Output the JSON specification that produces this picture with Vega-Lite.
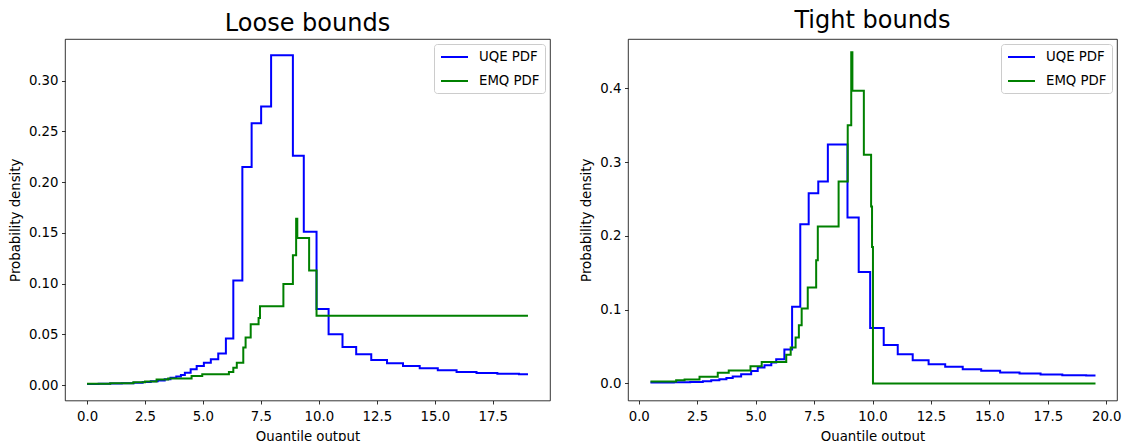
{
  "$schema": "https://vega.github.io/schema/vega-lite/v6.json",
  "background": "white",
  "padding": {"left": 7, "top": 8, "right": 0, "bottom": 0},
  "config": {
    "font": "DejaVu Sans",
    "view": {"stroke": "black", "strokeWidth": 0.8},
    "axis": {"grid": false, "domain": false, "labelFont": "DejaVu Sans", "labelFontSize": 13.3, "labelColor": "black", "titleFont": "DejaVu Sans", "titleFontSize": 13.3, "titleFontWeight": "normal", "titleColor": "black", "tickColor": "black", "tickSize": 3.5, "tickWidth": 0.8, "labelPadding": 3.5},
    "axisX": {"titlePadding": 7.5, "labelPadding": 5},
    "axisY": {"titlePadding": 6},
    "title": {"font": "DejaVu Sans", "fontSize": 24, "fontWeight": "normal", "color": "black", "anchor": "middle"},
    "legend": {"symbolType": "M-0.857,0H3", "symbolSize": 196, "symbolStrokeWidth": 2, "labelFontSize": 13.3, "labelFont": "DejaVu Sans", "labelColor": "black", "labelOffset": 24, "padding": 5, "rowPadding": 9, "strokeColor": "#cccccc", "fillColor": "rgba(255,255,255,0.8)", "cornerRadius": 3, "symbolOpacity": 1}
  },
  "data": {"values": [
    {"panel": "Loose", "series": "UQE PDF", "x": 0, "y": 0.0010},
    {"panel": "Loose", "series": "UQE PDF", "x": 0.5, "y": 0.0012},
    {"panel": "Loose", "series": "UQE PDF", "x": 1.0, "y": 0.0015},
    {"panel": "Loose", "series": "UQE PDF", "x": 1.5, "y": 0.0019},
    {"panel": "Loose", "series": "UQE PDF", "x": 2.0, "y": 0.0024},
    {"panel": "Loose", "series": "UQE PDF", "x": 2.4, "y": 0.0030},
    {"panel": "Loose", "series": "UQE PDF", "x": 2.75, "y": 0.0037},
    {"panel": "Loose", "series": "UQE PDF", "x": 3.05, "y": 0.0046},
    {"panel": "Loose", "series": "UQE PDF", "x": 3.35, "y": 0.0058},
    {"panel": "Loose", "series": "UQE PDF", "x": 3.6, "y": 0.0072},
    {"panel": "Loose", "series": "UQE PDF", "x": 3.85, "y": 0.0085},
    {"panel": "Loose", "series": "UQE PDF", "x": 4.05, "y": 0.0100},
    {"panel": "Loose", "series": "UQE PDF", "x": 4.22, "y": 0.0122},
    {"panel": "Loose", "series": "UQE PDF", "x": 4.47, "y": 0.0155},
    {"panel": "Loose", "series": "UQE PDF", "x": 4.73, "y": 0.0188},
    {"panel": "Loose", "series": "UQE PDF", "x": 5.04, "y": 0.0220},
    {"panel": "Loose", "series": "UQE PDF", "x": 5.34, "y": 0.0254},
    {"panel": "Loose", "series": "UQE PDF", "x": 5.66, "y": 0.0310},
    {"panel": "Loose", "series": "UQE PDF", "x": 5.99, "y": 0.0460},
    {"panel": "Loose", "series": "UQE PDF", "x": 6.31, "y": 0.1030},
    {"panel": "Loose", "series": "UQE PDF", "x": 6.70, "y": 0.2150},
    {"panel": "Loose", "series": "UQE PDF", "x": 7.10, "y": 0.2580},
    {"panel": "Loose", "series": "UQE PDF", "x": 7.51, "y": 0.2746},
    {"panel": "Loose", "series": "UQE PDF", "x": 7.94, "y": 0.3250},
    {"panel": "Loose", "series": "UQE PDF", "x": 8.88, "y": 0.2260},
    {"panel": "Loose", "series": "UQE PDF", "x": 9.35, "y": 0.1510},
    {"panel": "Loose", "series": "UQE PDF", "x": 9.90, "y": 0.0750},
    {"panel": "Loose", "series": "UQE PDF", "x": 10.42, "y": 0.0500},
    {"panel": "Loose", "series": "UQE PDF", "x": 11.02, "y": 0.0376},
    {"panel": "Loose", "series": "UQE PDF", "x": 11.61, "y": 0.0304},
    {"panel": "Loose", "series": "UQE PDF", "x": 12.26, "y": 0.0248},
    {"panel": "Loose", "series": "UQE PDF", "x": 12.94, "y": 0.0215},
    {"panel": "Loose", "series": "UQE PDF", "x": 13.63, "y": 0.0188},
    {"panel": "Loose", "series": "UQE PDF", "x": 14.35, "y": 0.0165},
    {"panel": "Loose", "series": "UQE PDF", "x": 15.13, "y": 0.0145},
    {"panel": "Loose", "series": "UQE PDF", "x": 15.94, "y": 0.0129},
    {"panel": "Loose", "series": "UQE PDF", "x": 16.80, "y": 0.0119},
    {"panel": "Loose", "series": "UQE PDF", "x": 17.70, "y": 0.0112},
    {"panel": "Loose", "series": "UQE PDF", "x": 18.63, "y": 0.0106},
    {"panel": "Loose", "series": "UQE PDF", "x": 19.02, "y": 0.0106},
    {"panel": "Loose", "series": "EMQ PDF", "x": 0, "y": 0.0012},
    {"panel": "Loose", "series": "EMQ PDF", "x": 1.0, "y": 0.0018},
    {"panel": "Loose", "series": "EMQ PDF", "x": 2.0, "y": 0.0028},
    {"panel": "Loose", "series": "EMQ PDF", "x": 2.5, "y": 0.0036},
    {"panel": "Loose", "series": "EMQ PDF", "x": 3.0, "y": 0.0055},
    {"panel": "Loose", "series": "EMQ PDF", "x": 3.5, "y": 0.0065},
    {"panel": "Loose", "series": "EMQ PDF", "x": 4.51, "y": 0.0090},
    {"panel": "Loose", "series": "EMQ PDF", "x": 4.97, "y": 0.0106},
    {"panel": "Loose", "series": "EMQ PDF", "x": 6.12, "y": 0.0130},
    {"panel": "Loose", "series": "EMQ PDF", "x": 6.31, "y": 0.0170},
    {"panel": "Loose", "series": "EMQ PDF", "x": 6.46, "y": 0.0220},
    {"panel": "Loose", "series": "EMQ PDF", "x": 6.74, "y": 0.0370},
    {"panel": "Loose", "series": "EMQ PDF", "x": 6.84, "y": 0.0470},
    {"panel": "Loose", "series": "EMQ PDF", "x": 7.06, "y": 0.0600},
    {"panel": "Loose", "series": "EMQ PDF", "x": 7.40, "y": 0.0660},
    {"panel": "Loose", "series": "EMQ PDF", "x": 7.46, "y": 0.0776},
    {"panel": "Loose", "series": "EMQ PDF", "x": 8.47, "y": 0.0997},
    {"panel": "Loose", "series": "EMQ PDF", "x": 8.88, "y": 0.1280},
    {"panel": "Loose", "series": "EMQ PDF", "x": 9.02, "y": 0.1640},
    {"panel": "Loose", "series": "EMQ PDF", "x": 9.07, "y": 0.1450},
    {"panel": "Loose", "series": "EMQ PDF", "x": 9.58, "y": 0.1130},
    {"panel": "Loose", "series": "EMQ PDF", "x": 9.90, "y": 0.0683},
    {"panel": "Loose", "series": "EMQ PDF", "x": 19.02, "y": 0.0683},
    {"panel": "Tight", "series": "UQE PDF", "x": 0.5, "y": 0.0012},
    {"panel": "Tight", "series": "UQE PDF", "x": 1.5, "y": 0.0015},
    {"panel": "Tight", "series": "UQE PDF", "x": 2.2, "y": 0.0020},
    {"panel": "Tight", "series": "UQE PDF", "x": 2.74, "y": 0.0030},
    {"panel": "Tight", "series": "UQE PDF", "x": 3.1, "y": 0.0042},
    {"panel": "Tight", "series": "UQE PDF", "x": 3.45, "y": 0.0058},
    {"panel": "Tight", "series": "UQE PDF", "x": 3.75, "y": 0.0075},
    {"panel": "Tight", "series": "UQE PDF", "x": 4.02, "y": 0.0095},
    {"panel": "Tight", "series": "UQE PDF", "x": 4.38, "y": 0.0126},
    {"panel": "Tight", "series": "UQE PDF", "x": 4.81, "y": 0.0170},
    {"panel": "Tight", "series": "UQE PDF", "x": 5.09, "y": 0.0216},
    {"panel": "Tight", "series": "UQE PDF", "x": 5.38, "y": 0.0248},
    {"panel": "Tight", "series": "UQE PDF", "x": 5.67, "y": 0.0284},
    {"panel": "Tight", "series": "UQE PDF", "x": 5.88, "y": 0.0330},
    {"panel": "Tight", "series": "UQE PDF", "x": 6.23, "y": 0.0460},
    {"panel": "Tight", "series": "UQE PDF", "x": 6.56, "y": 0.1040},
    {"panel": "Tight", "series": "UQE PDF", "x": 6.91, "y": 0.2160},
    {"panel": "Tight", "series": "UQE PDF", "x": 7.27, "y": 0.2580},
    {"panel": "Tight", "series": "UQE PDF", "x": 7.68, "y": 0.2740},
    {"panel": "Tight", "series": "UQE PDF", "x": 8.09, "y": 0.3240},
    {"panel": "Tight", "series": "UQE PDF", "x": 8.93, "y": 0.2250},
    {"panel": "Tight", "series": "UQE PDF", "x": 9.41, "y": 0.1510},
    {"panel": "Tight", "series": "UQE PDF", "x": 9.90, "y": 0.0753},
    {"panel": "Tight", "series": "UQE PDF", "x": 10.48, "y": 0.0523},
    {"panel": "Tight", "series": "UQE PDF", "x": 11.08, "y": 0.0397},
    {"panel": "Tight", "series": "UQE PDF", "x": 11.72, "y": 0.0316},
    {"panel": "Tight", "series": "UQE PDF", "x": 12.40, "y": 0.0262},
    {"panel": "Tight", "series": "UQE PDF", "x": 13.11, "y": 0.0225},
    {"panel": "Tight", "series": "UQE PDF", "x": 13.86, "y": 0.0194},
    {"panel": "Tight", "series": "UQE PDF", "x": 14.65, "y": 0.0171},
    {"panel": "Tight", "series": "UQE PDF", "x": 15.46, "y": 0.0149},
    {"panel": "Tight", "series": "UQE PDF", "x": 16.29, "y": 0.0135},
    {"panel": "Tight", "series": "UQE PDF", "x": 17.19, "y": 0.0122},
    {"panel": "Tight", "series": "UQE PDF", "x": 18.12, "y": 0.0112},
    {"panel": "Tight", "series": "UQE PDF", "x": 19.14, "y": 0.0108},
    {"panel": "Tight", "series": "UQE PDF", "x": 19.54, "y": 0.0108},
    {"panel": "Tight", "series": "EMQ PDF", "x": 0.5, "y": 0.0025},
    {"panel": "Tight", "series": "EMQ PDF", "x": 1.60, "y": 0.0045},
    {"panel": "Tight", "series": "EMQ PDF", "x": 1.96, "y": 0.0055},
    {"panel": "Tight", "series": "EMQ PDF", "x": 2.60, "y": 0.0090},
    {"panel": "Tight", "series": "EMQ PDF", "x": 3.38, "y": 0.0144},
    {"panel": "Tight", "series": "EMQ PDF", "x": 3.85, "y": 0.0176},
    {"panel": "Tight", "series": "EMQ PDF", "x": 4.78, "y": 0.0234},
    {"panel": "Tight", "series": "EMQ PDF", "x": 5.26, "y": 0.0290},
    {"panel": "Tight", "series": "EMQ PDF", "x": 6.31, "y": 0.0388},
    {"panel": "Tight", "series": "EMQ PDF", "x": 6.50, "y": 0.0488},
    {"panel": "Tight", "series": "EMQ PDF", "x": 6.71, "y": 0.0623},
    {"panel": "Tight", "series": "EMQ PDF", "x": 6.85, "y": 0.0790},
    {"panel": "Tight", "series": "EMQ PDF", "x": 6.97, "y": 0.1016},
    {"panel": "Tight", "series": "EMQ PDF", "x": 7.23, "y": 0.1300},
    {"panel": "Tight", "series": "EMQ PDF", "x": 7.59, "y": 0.1670},
    {"panel": "Tight", "series": "EMQ PDF", "x": 7.66, "y": 0.2127},
    {"panel": "Tight", "series": "EMQ PDF", "x": 8.55, "y": 0.2737},
    {"panel": "Tight", "series": "EMQ PDF", "x": 8.94, "y": 0.3500},
    {"panel": "Tight", "series": "EMQ PDF", "x": 9.09, "y": 0.4490},
    {"panel": "Tight", "series": "EMQ PDF", "x": 9.14, "y": 0.3970},
    {"panel": "Tight", "series": "EMQ PDF", "x": 9.63, "y": 0.3100},
    {"panel": "Tight", "series": "EMQ PDF", "x": 9.94, "y": 0.2400},
    {"panel": "Tight", "series": "EMQ PDF", "x": 9.98, "y": 0.1850},
    {"panel": "Tight", "series": "EMQ PDF", "x": 10.02, "y": 0.0000},
    {"panel": "Tight", "series": "EMQ PDF", "x": 19.54, "y": 0.0000}
  ]},
  "spacing": 28,
  "resolve": {"scale": {"color": "independent", "x": "independent", "y": "independent"}, "legend": {"color": "independent"}},
  "hconcat": [
    {
      "width": 485,
      "height": 361.5,
      "title": {"text": "Loose bounds", "offset": 3.5},
      "transform": [{"filter": "datum.panel === 'Loose'"}],
      "encoding": {
        "x": {"field": "x", "type": "quantitative", "scale": {"domain": [-0.95, 19.97], "nice": false, "zero": false}, "axis": {"title": "Quantile output", "values": [0, 2.5, 5, 7.5, 10, 12.5, 15, 17.5], "format": ".1f"}},
        "y": {"field": "y", "type": "quantitative", "scale": {"domain": [-0.0152, 0.341], "nice": false, "zero": false}, "axis": {"title": "Probability density", "values": [0, 0.05, 0.1, 0.15, 0.2, 0.25, 0.3], "format": ".2f"}},
        "color": {"field": "series", "type": "nominal", "scale": {"domain": ["UQE PDF", "EMQ PDF"], "range": ["#0000ff", "#008000"]}, "legend": {"title": null, "orient": "top-right", "offset": 5}}
      },
      "layer": [
        {"transform": [{"filter": "datum.series === 'UQE PDF'"}], "mark": {"type": "line", "interpolate": "step-after", "strokeWidth": 2}},
        {"transform": [{"filter": "datum.series === 'EMQ PDF'"}], "mark": {"type": "line", "interpolate": "step-after", "strokeWidth": 2}}
      ]
    },
    {
      "width": 489,
      "height": 361.5,
      "title": {"text": "Tight bounds", "offset": 6.5},
      "transform": [{"filter": "datum.panel === 'Tight'"}],
      "encoding": {
        "x": {"field": "x", "type": "quantitative", "scale": {"domain": [-0.46, 20.46], "nice": false, "zero": false}, "axis": {"title": "Quantile output", "values": [0, 2.5, 5, 7.5, 10, 12.5, 15, 17.5, 20], "format": ".1f"}},
        "y": {"field": "y", "type": "quantitative", "scale": {"domain": [-0.0231, 0.4671], "nice": false, "zero": false}, "axis": {"title": "Probability density", "values": [0, 0.1, 0.2, 0.3, 0.4], "format": ".1f"}},
        "color": {"field": "series", "type": "nominal", "scale": {"domain": ["UQE PDF", "EMQ PDF"], "range": ["#0000ff", "#008000"]}, "legend": {"title": null, "orient": "top-right", "offset": 5}}
      },
      "layer": [
        {"transform": [{"filter": "datum.series === 'UQE PDF'"}], "mark": {"type": "line", "interpolate": "step-after", "strokeWidth": 2}},
        {"transform": [{"filter": "datum.series === 'EMQ PDF'"}], "mark": {"type": "line", "interpolate": "step-after", "strokeWidth": 2}}
      ]
    }
  ]
}
